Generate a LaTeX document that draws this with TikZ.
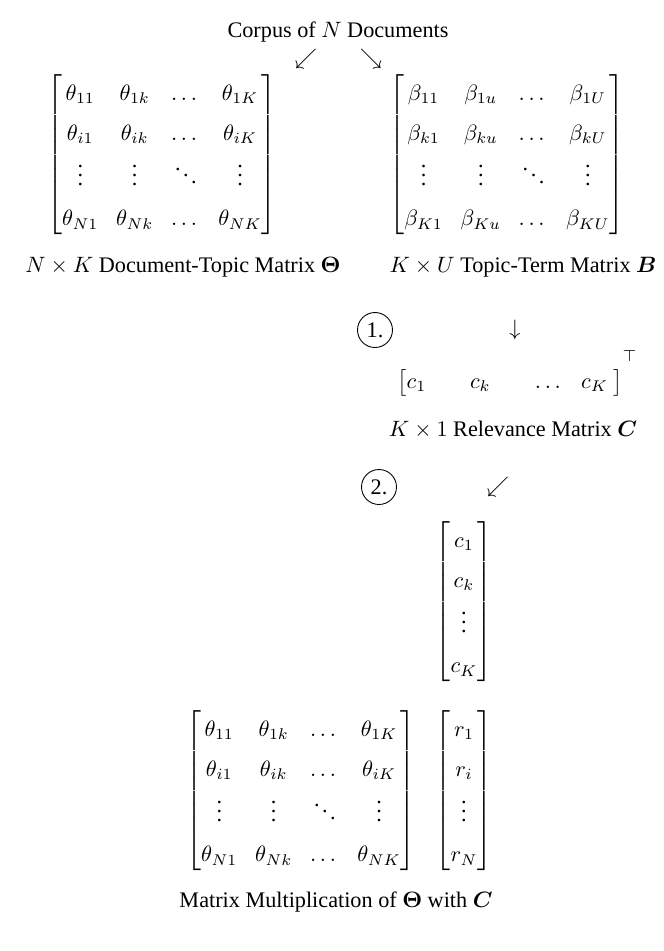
\documentclass[tikz,border=0pt]{standalone}
\usepackage{amsmath}
\usepackage{bm}
\usepackage{fontspec}
\setmainfont{Liberation Serif}
\usetikzlibrary{positioning}

\renewcommand{\arraystretch}{1.5}
\setlength{\arraycolsep}{4pt}
\newcommand{\thetamat}{\begin{bmatrix}
  \theta_{11} & \theta_{1k} & \dots & \theta_{1K}\\
  \theta_{i1} & \theta_{ik} & \dots & \theta_{iK}\\
  \vdots & \vdots & \ddots & \vdots\\
  \theta_{N1} & \theta_{Nk} & \dots & \theta_{NK}
\end{bmatrix}}
\newcommand{\cslot}[2]{\makebox[#1][l]{$#2$}}

\begin{document}
\begin{tikzpicture}[x=0.45pt, y=-0.45pt, every node/.style={inner sep=0pt},
  stepmark/.style={draw, circle, inner sep=2pt}]
\useasboundingbox (0,0) rectangle (664,951);
% Corpus and the two factor matrices
\node (corpus) at (338,32) {Corpus of $N$ Documents};
\node (splitL) at (306,59) {$\swarrow$};
\node (splitR) at (371,59) {$\searrow$};

\node (theta) at (162,155) {$\thetamat$};
\node (beta) at (507,155) {$\begin{bmatrix}
  \beta_{11} & \beta_{1u} & \dots & \beta_{1U}\\
  \beta_{k1} & \beta_{ku} & \dots & \beta_{kU}\\
  \vdots & \vdots & \ddots & \vdots\\
  \beta_{K1} & \beta_{Ku} & \dots & \beta_{KU}
\end{bmatrix}$};

\node (thetalab) at (183,267) {$N \times K$ Document-Topic Matrix $\boldsymbol{\Theta}$};
\node (betalab) at (523,267) {$K \times U$ Topic-Term Matrix $\bm{B}$};

% Step 1: relevance vector
\node[stepmark] (one) at (375,330) {1.};
\node (down) at (515,330) {$\downarrow$};
\node[anchor=base west] (crow) at (397,388) {$\bigl[\cslot{28.5pt}{c_1}\cslot{29.2pt}{c_k}\cslot{20.8pt}{\dots}\cslot{14.5pt}{c_K}\bigr]^{\raisebox{6pt}{$\scriptstyle\top$}}$};
\node (clab) at (513,430) {$K \times 1$ Relevance Matrix $\bm{C}$};

% Step 2: multiplication
\node[stepmark] (two) at (379,487) {2.};
\node (turn) at (498,487) {$\swarrow$};
\node (ccol) at (464,602) {$\begin{bmatrix} c_1\\ c_k\\ \vdots\\ c_K \end{bmatrix}$};

\node (thetab) at (301,791) {$\thetamat$};
\node (rcol) at (464,791) {$\begin{bmatrix} r_1\\ r_i\\ \vdots\\ r_N \end{bmatrix}$};
\node (multlab) at (336,902) {Matrix Multiplication of $\boldsymbol{\Theta}$ with $\bm{C}$};
\end{tikzpicture}
\end{document}
